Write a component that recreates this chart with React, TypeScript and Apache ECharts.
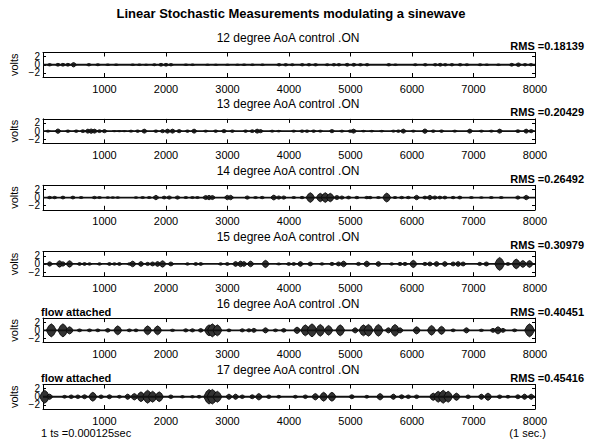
import React, { useEffect, useRef } from "react";
import * as echarts from "echarts";

const FONT = "Liberation Sans, Arial, Helvetica, sans-serif";

const mainTitle = "Linear Stochastic Measurements modulating a sinewave";
const plotTitles = [
  "12 degree AoA control .ON",
  "13 degree AoA control .ON",
  "14 degree AoA control .ON",
  "15 degree AoA control .ON",
  "16 degree AoA control .ON",
  "17 degree AoA control .ON",
];
const rmsLabels = [
  "RMS =0.18139",
  "RMS =0.20429",
  "RMS =0.26492",
  "RMS =0.30979",
  "RMS =0.40451",
  "RMS =0.45416",
];
const flowLabels = ["", "", "", "", "flow attached", "flow attached"];
const yTicks = [-2, 0, 2];
const xMin = 0;
const xMax = 8000;
const xStep = 1000;
const yMin = -3;
const yMax = 3;
const footLeft = "1 ts =0.000125sec";
const footRight = "(1 sec.)";

// burst envelopes: [sample index, peak amplitude in volts]
const bursts12: [number, number][] = [
  [108, 0.3], [243, 0.35], [324, 0.35], [405, 0.35], [497, 0.55], [746, 0.3], [892, 0.25],
  [1054, 0.2], [1189, 0.2], [1459, 0.2], [1567, 0.2], [1676, 0.15], [1811, 0.25], [1919, 0.35],
  [2000, 0.35], [2081, 0.3], [2324, 0.2], [2432, 0.2], [2676, 0.15], [2811, 0.15], [3000, 0.15],
  [3162, 0.15], [3270, 0.2], [3405, 0.2], [3568, 0.2], [3838, 0.3], [3946, 0.3], [4054, 0.25],
  [4216, 0.3], [4324, 0.3], [4432, 0.3], [4622, 0.25], [4730, 0.3], [4811, 0.3], [4946, 0.35],
  [5054, 0.35], [5162, 0.3], [5270, 0.3], [5622, 0.3], [5730, 0.2], [6054, 0.25], [6216, 0.3],
  [6378, 0.3], [6459, 0.35], [6541, 0.3], [6649, 0.3], [6784, 0.3], [6892, 0.25], [7108, 0.25],
  [7216, 0.2], [7405, 0.2], [7622, 0.35], [7730, 0.45], [7838, 0.3], [7935, 0.3],
];
const bursts13: [number, number][] = [
  [81, 0.25], [243, 0.55], [405, 0.3], [540, 0.3], [648, 0.35], [729, 0.5], [783, 0.55],
  [837, 0.5], [918, 0.35], [999, 0.4], [1161, 0.15], [1242, 0.15], [1323, 0.15], [1431, 0.25],
  [1539, 0.3], [1647, 0.5], [1836, 0.3], [1944, 0.4], [2025, 0.5], [2106, 0.5], [2214, 0.4],
  [2349, 0.3], [2457, 0.5], [2646, 0.25], [2808, 0.3], [2943, 0.4], [3078, 0.3], [3294, 0.3],
  [3402, 0.35], [3483, 0.5], [3537, 0.4], [3726, 0.25], [3834, 0.2], [4077, 0.25], [4212, 0.3],
  [4293, 0.3], [4401, 0.3], [4509, 0.25], [4698, 0.4], [4860, 0.25], [4995, 0.3], [5049, 0.5],
  [5211, 0.2], [5346, 0.2], [5508, 0.2], [5697, 0.25], [5778, 0.3], [5859, 0.5], [6021, 0.25],
  [6210, 0.55], [6345, 0.3], [6480, 0.3], [6696, 0.25], [6939, 0.5], [7128, 0.25], [7290, 0.25],
  [7425, 0.5], [7722, 0.35], [7857, 0.5], [7938, 0.4],
];
const bursts14: [number, number][] = [
  [108, 0.3], [189, 0.3], [324, 0.35], [486, 0.35], [621, 0.25], [837, 0.3], [918, 0.25],
  [1053, 0.2], [1134, 0.2], [1215, 0.2], [1512, 0.2], [1620, 0.25], [1728, 0.25], [1836, 0.55],
  [1971, 0.35], [2052, 0.4], [2187, 0.4], [2322, 0.25], [2430, 0.25], [2511, 0.25], [2646, 0.5],
  [2700, 0.55], [2754, 0.5], [2997, 0.55], [3051, 0.55], [3321, 0.4], [3456, 0.25], [3564, 0.3],
  [3753, 0.6], [3834, 0.4], [3915, 0.4], [4077, 0.25], [4212, 0.3], [4347, 1.2], [4509, 1.05],
  [4590, 1.2], [4671, 1.05], [4779, 0.5], [4860, 0.4], [4968, 0.35], [5103, 0.3], [5265, 0.3],
  [5319, 0.3], [5454, 0.25], [5589, 1.1], [5724, 0.25], [5832, 0.3], [5940, 0.3], [6075, 0.55],
  [6210, 0.35], [6291, 0.55], [6372, 0.4], [6453, 0.35], [6534, 0.35], [6669, 0.3], [6777, 0.35],
  [6966, 0.25], [7128, 0.2], [7290, 0.25], [7452, 0.25], [7722, 0.4], [7857, 0.55],
];
const bursts15: [number, number][] = [
  [108, 0.55], [270, 0.8], [324, 0.55], [432, 0.8], [594, 0.35], [675, 0.35], [756, 0.3],
  [918, 0.3], [1080, 0.35], [1161, 0.3], [1242, 0.35], [1404, 0.3], [1458, 0.7], [1593, 0.6],
  [1701, 0.4], [1782, 0.5], [1863, 0.6], [1944, 0.8], [2079, 0.5], [2349, 0.3], [2484, 0.35],
  [2565, 0.35], [2889, 0.3], [2997, 0.35], [3132, 0.6], [3213, 0.7], [3267, 0.6], [3375, 0.7],
  [3618, 0.9], [3834, 0.25], [3996, 0.35], [4077, 0.35], [4185, 0.6], [4347, 0.5], [4536, 0.3],
  [4698, 0.4], [4806, 0.5], [4887, 0.7], [5130, 0.4], [5265, 0.7], [5454, 0.6], [5670, 0.3],
  [5805, 0.4], [5886, 0.4], [6021, 0.9], [6210, 0.4], [6291, 0.5], [6399, 0.6], [6534, 0.6],
  [6669, 0.5], [6750, 0.6], [6831, 0.5], [7101, 0.4], [7209, 0.5], [7425, 1.6], [7560, 0.35],
  [7695, 1.2], [7803, 0.85], [7911, 0.85],
];
const bursts16: [number, number][] = [
  [135, 1.6], [324, 1.6], [432, 0.9], [594, 0.35], [756, 0.35], [891, 0.35], [1053, 0.45],
  [1215, 1.1], [1404, 0.35], [1512, 0.35], [1701, 1.1], [1863, 1.1], [2106, 0.3], [2322, 0.4],
  [2430, 0.4], [2565, 0.45], [2700, 1.35], [2754, 1.6], [2835, 1.35], [3024, 0.35], [3240, 0.4],
  [3348, 0.4], [3429, 0.5], [3618, 0.65], [3780, 0.35], [3915, 0.45], [4131, 0.8], [4266, 1.35],
  [4374, 1.6], [4509, 1.45], [4644, 1.2], [4833, 1.35], [5076, 0.65], [5211, 1.35], [5292, 1.45],
  [5454, 1.45], [5616, 0.65], [5724, 1.45], [5805, 0.65], [6075, 0.9], [6318, 1.2], [6480, 1.0],
  [6669, 0.35], [6885, 0.65], [7128, 0.3], [7317, 0.5], [7398, 0.9], [7479, 0.5], [7668, 0.35],
  [7911, 1.6],
];
const bursts17: [number, number][] = [
  [27, 1.6], [108, 0.65], [351, 0.35], [459, 0.45], [567, 0.45], [675, 0.5], [810, 1.1],
  [945, 0.45], [1080, 0.5], [1242, 0.35], [1377, 0.65], [1485, 0.8], [1593, 1.2], [1701, 1.6],
  [1782, 1.35], [1890, 1.2], [2079, 0.45], [2268, 0.3], [2430, 0.3], [2538, 0.35], [2700, 1.8],
  [2754, 1.8], [2835, 1.35], [3024, 0.65], [3132, 0.65], [3240, 0.45], [3402, 0.5], [3510, 0.8],
  [3672, 0.45], [3834, 0.35], [4104, 0.35], [4266, 0.45], [4428, 0.8], [4563, 1.1], [4698, 1.1],
  [5022, 0.5], [5265, 0.35], [5481, 0.8], [5697, 0.65], [5832, 0.5], [5940, 0.45], [6075, 0.45],
  [6345, 0.9], [6426, 1.35], [6507, 1.6], [6588, 1.35], [6723, 0.9], [6912, 0.45], [7128, 0.65],
  [7236, 0.9], [7425, 0.45], [7560, 0.35], [7722, 0.5], [7830, 0.65], [7938, 0.65],
];
const allBursts = [bursts12, bursts13, bursts14, bursts15, bursts16, bursts17];
const baseline: [number, number][] = [
  [0, 0],
  [8000, 0],
];

const GRID_TOP0 = 52.5;
const GRID_STEP = 66.4;
const GRID_H = 24.5;
const GRID_LEFT = 41;
const GRID_RIGHT = 62;

function fmtY(v: number) {
  return v < 0 ? "\u2212" + Math.abs(v) : String(v);
}

export default function App() {
  const ref = useRef<HTMLDivElement>(null);
  useEffect(() => {
    if (!ref.current) return;
    const chart = echarts.init(ref.current, null, { renderer: "svg" });
    const grids: any[] = [];
    const xAxes: any[] = [];
    const yAxes: any[] = [];
    const series: any[] = [];
    const graphics: any[] = [];

    graphics.push({
      type: "text",
      x: 291,
      y: 13,
      style: {
        text: mainTitle,
        font: `bold 13px ${FONT}`,
        fill: "#000",
        textAlign: "center",
        textVerticalAlign: "middle",
      },
    });

    for (let i = 0; i < 6; i++) {
      const top = GRID_TOP0 + i * GRID_STEP;
      grids.push({ left: GRID_LEFT, right: GRID_RIGHT, top, height: GRID_H, containLabel: false });
      const axisLine = { show: true, onZero: false, lineStyle: { color: "#000", width: 1 } };
      xAxes.push({
        type: "value",
        gridIndex: i,
        min: xMin,
        max: xMax,
        interval: xStep,
        position: "bottom",
        axisLine,
        axisTick: { show: true, inside: true, length: 4, lineStyle: { color: "#000" } },
        axisLabel: {
          show: true,
          color: "#000",
          fontSize: 11,
          fontFamily: FONT,
          margin: 6,
          showMaxLabel: true,
          showMinLabel: true,
          formatter: (v: number) => (v === 0 ? "" : String(v)),
        },
        splitLine: { show: false },
      });
      xAxes.push({
        type: "value",
        gridIndex: i,
        min: xMin,
        max: xMax,
        interval: xStep,
        position: "top",
        axisLine,
        axisTick: { show: true, inside: true, length: 4, lineStyle: { color: "#000" } },
        axisLabel: { show: false },
        splitLine: { show: false },
      });
      const base = yAxes.length;
      yAxes.push({
        type: "value",
        gridIndex: i,
        min: yMin,
        max: yMax,
        position: "left",
        axisLine,
        axisTick: {
          show: true,
          inside: true,
          length: 3,
          customValues: yTicks,
          lineStyle: { color: "#000" },
        },
        axisLabel: {
          show: true,
          color: "#000",
          fontSize: 10,
          fontFamily: FONT,
          margin: 3,
          hideOverlap: false,
          customValues: [yTicks[1]],
          formatter: fmtY,
        },
        splitLine: { show: false },
        name: "volts",
        nameLocation: "middle",
        nameRotate: 90,
        nameGap: 24,
        nameTextStyle: { color: "#000", fontSize: 11, fontFamily: FONT },
      });
      yAxes.push({
        type: "value",
        gridIndex: i,
        min: yMin,
        max: yMax,
        position: "right",
        axisLine,
        axisTick: {
          show: true,
          inside: true,
          length: 3,
          customValues: yTicks,
          lineStyle: { color: "#000" },
        },
        axisLabel: { show: false },
        splitLine: { show: false },
      });
      [yTicks[0], yTicks[2]].forEach((tv) => {
        yAxes.push({
          type: "value",
          gridIndex: i,
          min: yMin,
          max: yMax,
          position: "left",
          axisLine: { show: false },
          axisTick: { show: false },
          axisLabel: {
            show: true,
            color: "#000",
            fontSize: 10,
            fontFamily: FONT,
            margin: 3,
            hideOverlap: false,
            customValues: [tv],
            formatter: fmtY,
          },
          splitLine: { show: false },
        });
      });

      series.push({
        type: "line",
        xAxisIndex: 2 * i,
        yAxisIndex: base,
        data: baseline,
        symbol: "none",
        lineStyle: { color: "#111", width: 1.8 },
        silent: true,
      });
      series.push({
        type: "custom",
        xAxisIndex: 2 * i,
        yAxisIndex: base,
        data: allBursts[i],
        silent: true,
        renderItem: (params: any, api: any) => {
          const x = api.value(0);
          const a = api.value(1);
          const hw = 34 + 30 * a;
          const pts = [
            api.coord([x - hw, 0]),
            api.coord([x - hw / 2, a * 0.7]),
            api.coord([x, a]),
            api.coord([x + hw / 2, a * 0.7]),
            api.coord([x + hw, 0]),
            api.coord([x + hw / 2, -a * 0.7]),
            api.coord([x, -a]),
            api.coord([x - hw / 2, -a * 0.7]),
          ];
          return {
            type: "polygon",
            shape: { points: pts },
            style: { fill: "#333", stroke: "#000", lineWidth: 0.8 },
          };
        },
      });

      graphics.push({
        type: "text",
        x: 288,
        y: 38 + i * GRID_STEP,
        style: {
          text: plotTitles[i],
          font: `12px ${FONT}`,
          fill: "#000",
          textAlign: "center",
          textVerticalAlign: "middle",
        },
      });
      graphics.push({
        type: "text",
        x: 584,
        y: 46 + i * GRID_STEP,
        style: {
          text: rmsLabels[i],
          font: `bold 11px ${FONT}`,
          fill: "#000",
          textAlign: "right",
          textVerticalAlign: "middle",
        },
      });
      if (flowLabels[i]) {
        graphics.push({
          type: "text",
          x: 41,
          y: 46 + i * GRID_STEP,
          style: {
            text: flowLabels[i],
            font: `bold 11px ${FONT}`,
            fill: "#000",
            textAlign: "left",
            textVerticalAlign: "middle",
          },
        });
      }
    }

    graphics.push({
      type: "text",
      x: 41,
      y: 433,
      style: {
        text: footLeft,
        font: `11px ${FONT}`,
        fill: "#000",
        textAlign: "left",
        textVerticalAlign: "middle",
      },
    });
    graphics.push({
      type: "text",
      x: 546,
      y: 433,
      style: {
        text: footRight,
        font: `11px ${FONT}`,
        fill: "#000",
        textAlign: "right",
        textVerticalAlign: "middle",
      },
    });

    chart.setOption({
      animation: false,
      backgroundColor: "#fff",
      textStyle: { fontFamily: FONT },
      grid: grids,
      xAxis: xAxes,
      yAxis: yAxes,
      series,
      graphic: graphics,
    });
    return () => chart.dispose();
  }, []);
  return (
    <div
      ref={ref}
      style={{ position: "fixed", left: 0, top: 0, width: 597, height: 440, background: "#fff" }}
    />
  );
}
